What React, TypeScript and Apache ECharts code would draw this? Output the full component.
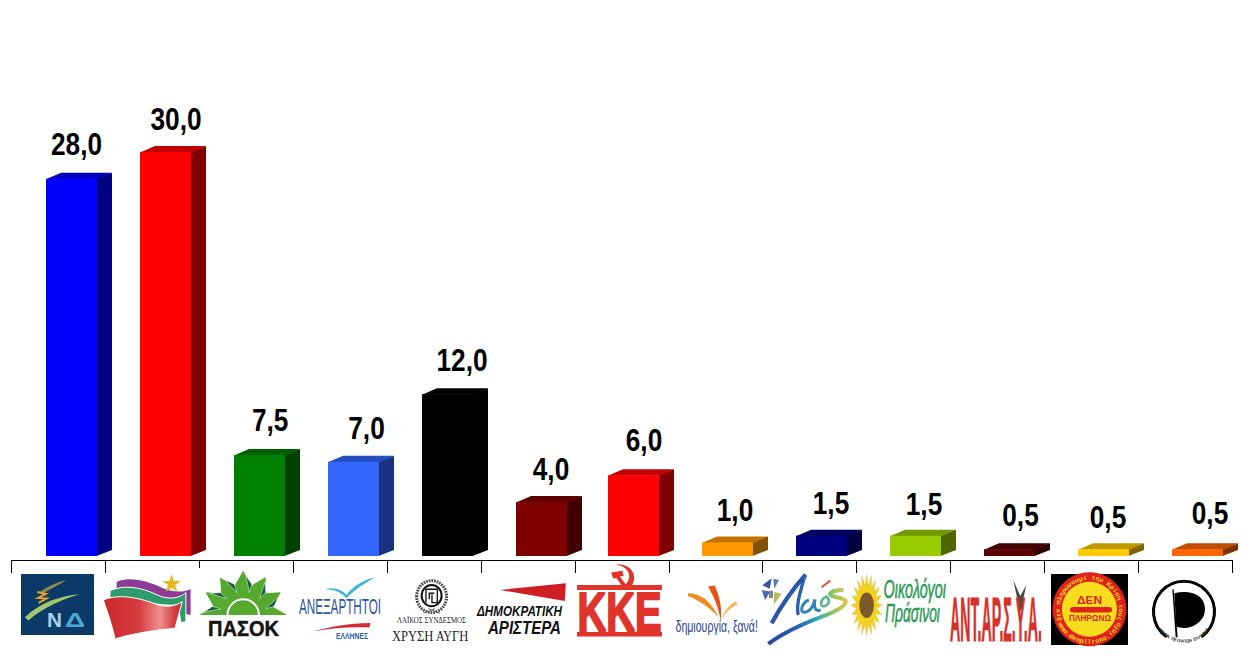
import React, { useEffect, useRef } from "react";
import * as echarts from "echarts";

// ---------- data ----------
const parties = [
  "ΝΔ", "ΣΥΡΙΖΑ", "ΠΑΣΟΚ", "ΑΝΕΞΑΡΤΗΤΟΙ ΕΛΛΗΝΕΣ", "ΧΡΥΣΗ ΑΥΓΗ", "ΔΗΜΟΚΡΑΤΙΚΗ ΑΡΙΣΤΕΡΑ", "ΚΚΕ",
  "ΔΗΜΙΟΥΡΓΙΑ ΞΑΝΑ", "ΛΑΟΣ", "ΟΙΚΟΛΟΓΟΙ ΠΡΑΣΙΝΟΙ", "ΑΝΤΑΡΣΥΑ", "ΔΕΝ ΠΛΗΡΩΝΩ", "ΠΕΙΡΑΤΕΣ",
];
const values = [28, 30, 7.5, 7, 12, 4, 6, 1, 1.5, 1.5, 0.5, 0.5, 0.5];
const frontColors = ["#0000ff", "#ff0000", "#008000", "#3366ff", "#000000", "#800000", "#ff0000", "#ff9900", "#000080", "#99cc00", "#5a0000", "#ffcc00", "#ff6600"];
const topColors = ["#0000c0", "#c00000", "#006000", "#264dc0", "#000000", "#600000", "#c00000", "#c07300", "#000060", "#739900", "#420000", "#c09900", "#c04d00"];
const sideColors = ["#000080", "#800000", "#004000", "#1a3380", "#000000", "#400000", "#800000", "#805000", "#000040", "#4d6600", "#2d0000", "#806600", "#803300"];

// hand placement of the source: small bar shifts, and labels relative to each bar's front face
const barShiftX = [0, 0, 0, 1, 1, 1, -1, -1, -1, -1, -1, -1, -1];
const labelShiftX = [5, 10.5, 10.7, 13, 14.5, 9.5, 10.5, 7.5, 9.5, 8.5, 11, 4.5, 12.5];
const labelRise = [35, 33, 35, 34, 34, 33, 35, 32.5, 33, 32, 34, 32, 36];

const NARROW = '"Liberation Sans",Arial,sans-serif';
const SANS = '"Liberation Sans",Arial,sans-serif';
const SERIF = '"Liberation Serif",serif';

// ---------- logo helpers ----------
let shapeCount = 0;
const logoEls: any[] = [];
function mk(d: string, cx: number, cy: number, style: any) {
  const name = "logoShape" + shapeCount++;
  echarts.graphic.registerShape(name, echarts.graphic.extendPath(d as any, {} as any) as any);
  logoEls.push({ type: name, x: cx, y: cy, scaleX: 1 / 3, scaleY: 1 / 3, style, z: 10, silent: true });
}
function poly(pts: number[][]) {
  return "M" + pts.map((p) => p[0].toFixed(1) + " " + p[1].toFixed(1)).join("L") + "Z";
}
function star(cx: number, cy: number, R: number, r: number, n: number, ky = 1) {
  const pts: number[][] = [];
  for (let i = 0; i < n * 2; i++) {
    const a = -Math.PI / 2 + (i * Math.PI) / n;
    const q = i % 2 ? r : R;
    pts.push([cx + q * Math.cos(a), cy + q * ky * Math.sin(a)]);
  }
  return poly(pts);
}
let measureCtx: any = null;
function fit(str: string, x0: number, x1: number, top: number, bottom: number, fill: string, family: string, extra: { w?: string; i?: boolean; size?: number; bold?: number } = {}) {
  const size = extra.size || (bottom - top) / 0.72;
  const weight = extra.w || "normal";
  const fs = extra.i ? "italic" : "normal";
  if (!measureCtx) measureCtx = document.createElement("canvas").getContext("2d");
  measureCtx.font = `${fs} ${weight} ${size}px ${family}`;
  const w = measureCtx.measureText(str).width || 1;
  const style: any = { text: str, fill, fontFamily: family, fontSize: size, fontWeight: weight, fontStyle: fs, textAlign: "left", verticalAlign: "middle" };
  if (extra.bold) {
    style.stroke = fill;
    style.lineWidth = extra.bold;
  }
  logoEls.push({ type: "text", x: x0, y: (top + bottom) / 2, scaleX: (x1 - x0) / w, z: 11, silent: true, style });
}
function arcTop(str: string, cx: number, cy: number, r: number, start: number, step: number, fill: string, size: number, family = NARROW) {
  Array.from(str).forEach((ch, i) => {
    const t = ((start + i * step) * Math.PI) / 180;
    logoEls.push({ type: "text", x: cx + r * Math.sin(t), y: cy - r * Math.cos(t), rotation: -t, z: 11, silent: true,
      style: { text: ch, fill, fontFamily: family, fontSize: size, fontWeight: "bold", textAlign: "center", verticalAlign: "middle" } });
  });
}
function arcBottom(str: string, cx: number, cy: number, r: number, start: number, step: number, fill: string, size: number, family = NARROW) {
  Array.from(str).forEach((ch, i) => {
    const t = ((start + i * step) * Math.PI) / 180;
    logoEls.push({ type: "text", x: cx + r * Math.sin(t), y: cy + r * Math.cos(t), rotation: t, z: 11, silent: true,
      style: { text: ch, fill, fontFamily: family, fontSize: size, fontWeight: "bold", textAlign: "center", verticalAlign: "middle" } });
  });
}
const hGrad = (stops: [number, string][]) =>
  new echarts.graphic.LinearGradient(0, 0, 1, 0, stops.map(([offset, color]) => ({ offset, color })));

function buildLogos() {
  logoEls.length = 0;
  // mask for the axis tick hidden by the PASOK logo's white background
  logoEls.push({ type: "rect", shape: { x: 197, y: 568, width: 5, height: 7 }, style: { fill: "#fff" }, z: 9, silent: true });

  // ΝΔ
  const c2: [number, number] = [0, 530];
  logoEls.push({ type: "rect", shape: { x: 21, y: 574, width: 73, height: 61 }, style: { fill: "#0b3a68" }, z: 9, silent: true });
  mk("M75 262 C120 218 180 198 238 193 C190 208 130 232 85 272Z", ...c2, { fill: "#a3c76d" });
  mk("M118 188 C140 170 170 157 200 150 C178 165 150 176 125 194Z", ...c2, { fill: "#8d8a4a" });
  mk("M112 186 L138 192 L114 204 L140 206 L116 219", ...c2, { fill: "none", stroke: "#e7a32e", lineWidth: 6 });
  fit("Ν", 47, 62, 612, 627, "#a6d3ea", SANS, { w: "bold" });
  fit("Δ", 65, 85, 612, 627, "#4aa8d2", SANS, { w: "bold" });

  // ΣΥΡΙΖΑ
  const c7: [number, number] = [100, 570];
  mk("M50 36 C80 20 130 30 175 48 C210 66 245 70 272 58 L272 135 L258 132 L245 82 C200 95 130 62 50 60Z", ...c7, { fill: "#8e3a97" });
  mk("M30 62 C70 44 120 50 170 74 C205 91 240 85 258 68 L258 155 L243 158 L235 105 C180 110 110 90 30 85Z", ...c7, { fill: "#2e9b6b", stroke: "#fff", lineWidth: 3 });
  mk("M10 90 C50 72 110 80 170 103 C200 114 230 107 247 95 L225 175 C170 180 100 190 45 207 C35 160 20 120 10 90Z", ...c7, {
    fill: hGrad([[0, "#c9292d"], [0.45, "#d63c3f"], [0.72, "#ee8f8f"], [0.9, "#d23e40"], [1, "#c9292d"]]), stroke: "#fff", lineWidth: 3 });
  mk(star(215, 42, 30, 11, 5), ...c7, { fill: "#e8b81e" });

  // ΠΑΣΟΚ
  const sun: number[][] = [];
  const cx = 430, cy = 135;
  const tips = [180, 149, 122, 90, 59, 31, 0];
  tips.forEach((a, i) => {
    const t = (a * Math.PI) / 180;
    sun.push([cx + 132 * Math.cos(t), cy - 133 * Math.sin(t)]);
    if (i < tips.length - 1) {
      const m = (((a + tips[i + 1]) / 2) * Math.PI) / 180;
      sun.push([cx + 92 * Math.cos(m), cy - 92 * Math.sin(m)]);
    }
  });
  mk(poly(sun), ...c7, { fill: "#55a92e" });
  tips.slice(0, -1).forEach((a, i) => {
    const m = (((a + tips[i + 1]) / 2) * Math.PI) / 180;
    const o = m + 0.2;
    mk(poly([
      [cx + 70 * Math.cos(m), cy - 70 * Math.sin(m)],
      [cx + 118 * Math.cos(o), cy - 118 * Math.sin(o)],
      [cx + 96 * Math.cos(m), cy - 96 * Math.sin(m)],
    ]), ...c7, { fill: "#0f5e38", stroke: "#fff", lineWidth: 1.5 });
  });
  mk(`M${cx - 47} ${cy} A47 47 0 0 1 ${cx + 47} ${cy}`, ...c7, { fill: "none", stroke: "#fff", lineWidth: 6 });
  fit("ΠΑΣΟΚ", 208, 279, 620, 636.5, "#141414", SANS, { w: "bold", bold: 0.5 });

  // ΑΝΕΞΑΡΤΗΤΟΙ ΕΛΛΗΝΕΣ
  mk("M975 178 C1000 170 1030 180 1040 195 C1060 170 1090 150 1125 143 C1095 160 1065 180 1040 205 C1030 190 1000 175 975 178Z", ...c2, { fill: "#3fb5d8" });
  mk("M940 305 C990 290 1050 280 1112 279 L1110 293 C1050 290 990 295 940 305Z", ...c2, { fill: "#d42d3a" });
  fit("ΑΝΕΞΑΡΤΗΤΟΙ", 299, 381, 598.5, 615, "#2b559f", NARROW);
  fit("ΕΛΛΗΝΕΣ", 336, 368, 632, 639, "#2f62ad", NARROW, { w: "bold" });

  // ΧΡΥΣΗ ΑΥΓΗ
  const c3: [number, number] = [400, 530];
  mk("M50 200 A45 48 0 1 1 140 200 A45 48 0 1 1 50 200Z", ...c3, { fill: "none", stroke: "#444", lineWidth: 9, lineDash: [5, 3] });
  mk("M65 197 A30 32 0 1 1 125 197 A30 32 0 1 1 65 197Z", ...c3, { fill: "none", stroke: "#111", lineWidth: 6 });
  mk("M78 218 L78 178 L112 178 L112 218 L96 218 L96 194 M88 208 L88 190 L103 190", ...c3, { fill: "none", stroke: "#111", lineWidth: 4 });
  mk("M70 250 L105 236 M120 250 L85 236", ...c3, { fill: "none", stroke: "#666", lineWidth: 3 });
  fit("ΛΑΪΚΟΣ ΣΥΝΔΕΣΜΟΣ", 397, 466, 618, 623.5, "#222", SERIF);
  fit("ΧΡΥΣΗ ΑΥΓΗ", 392, 469, 630.5, 641, "#222", SERIF);

  // ΔΗΜΟΚΡΑΤΙΚΗ ΑΡΙΣΤΕΡΑ
  mk("M300 180 L498 160 L495 213Z", ...c3, { fill: "#d01f24" });
  fit("ΔΗΜΟΚΡΑΤΙΚΗ", 477, 562, 606, 616, "#111", SANS, { w: "bold", i: true });
  fit("ΑΡΙΣΤΕΡΑ", 488, 561, 621.5, 634.5, "#111", SANS, { w: "bold", i: true });

  // ΚΚΕ
  const kke = "#e0332a";
  logoEls.push({ type: "rect", shape: { x: 577, y: 585, width: 85, height: 5 }, style: { fill: kke }, z: 10, silent: true });
  logoEls.push({ type: "rect", shape: { x: 577, y: 632, width: 85, height: 4.5 }, style: { fill: kke }, z: 10, silent: true });
  fit("ΚΚΕ", 577.5, 661.5, 591, 631, kke, SANS, { w: "bold", bold: 2 });
  mk("M648 104 C690 100 712 130 700 160 C692 178 670 180 655 172 C675 170 690 155 688 135 C686 118 668 106 648 104Z", ...c3, { fill: kke });
  mk("M634 128 L668 122 L672 138 L660 140 L682 168 L672 176 L650 144 L640 146Z", ...c3, { fill: kke });

  // δημιουργία, ξανά!
  mk("M865 190 C905 192 935 215 957 262 C930 232 900 212 865 198Z", ...c3, { fill: "#f08a1e" });
  mk("M925 170 L945 167 C960 200 968 235 963 272 C955 230 945 205 925 170Z", ...c3, { fill: "#e8521a" });
  mk("M1015 222 C990 235 975 250 965 272 C973 240 990 225 1008 215Z", ...c3, { fill: "#f3b660" });
  fit("δημιουργία, ξανά!", 675.5, 758, 620, 632.5, "#2a3f8f", NARROW, { size: 16 });

  // ΛΑΟΣ
  const c5: [number, number] = [755, 570];
  const laosGrad = hGrad([[0, "#22479f"], [0.4, "#2a62b4"], [0.62, "#2aa7b8"], [0.8, "#7cc26a"], [1, "#e3c34c"]]);
  mk("M152 14 C120 50 80 105 50 160", ...c5, { fill: "none", stroke: "#2a55a8", lineWidth: 13 });
  mk("M150 16 C138 60 122 105 130 135", ...c5, { fill: "none", stroke: "#2a5fb0", lineWidth: 10 });
  mk("M162 90 C140 98 132 130 150 127 C166 124 176 105 180 88 C176 110 180 127 197 120", ...c5, { fill: "none", stroke: "#2f86b5", lineWidth: 9 });
  mk("M214 80 C195 88 193 114 210 108 C225 103 225 88 214 80Z", ...c5, { fill: "none", stroke: "#5fb58f", lineWidth: 8 });
  mk("M40 222 C90 185 160 155 215 135 C245 122 278 105 272 92 C262 80 232 85 225 72 C228 64 248 60 266 60", ...c5, { fill: "none", stroke: laosGrad, lineWidth: 12 });
  mk("M226 32 L200 52", ...c5, { fill: "none", stroke: "#e0553a", lineWidth: 6 });
  mk(poly([[50, 25], [44, 56], [22, 46]]), ...c5, { fill: "#33549f" });
  mk(poly([[55, 26], [72, 30], [58, 56]]), ...c5, { fill: "#5a7ab8" });
  mk(poly([[20, 60], [46, 65], [30, 90]]), ...c5, { fill: "#4b6cb5" });
  mk(poly([[58, 65], [80, 72], [56, 104]]), ...c5, { fill: "#b7bd52" });
  mk(poly([[42, 62], [54, 62], [54, 84], [42, 84]]), ...c5, { fill: "#7d8a95" });

  // ΟΙΚΟΛΟΓΟΙ ΠΡΑΣΙΝΟΙ
  const c4: [number, number] = [830, 530];
  mk(star(110, 226, 47, 30, 20, 1.95), ...c4, { fill: "#f2d21e", stroke: "#d9a91a", lineWidth: 1 });
  mk("M88 226 A22 38 0 1 1 132 226 A22 38 0 1 1 88 226Z", ...c4, { fill: "#7b5a2b" });
  fit("Οικολόγοι", 883.5, 946, 580, 598, "#2e9a56", NARROW, { i: true, bold: 0.6 });
  fit("Πράσινοι", 885, 940, 604, 622, "#2e9a56", NARROW, { i: true, bold: 0.6 });

  // ΑΝΤ.ΑΡ.Σ.Υ.Α.
  fit("ΑΝΤ.ΑΡ.Σ.Υ.Α.", 950, 1042, 597, 642, "#d8302a", NARROW, { w: "bold", bold: 1 });
  mk("M205 30 L226 78 L244 45 L234 92 L232 112 L222 132 L220 100Z", 945, 570, { fill: "#4a4a44" });

  // ΔΕΝ ΠΛΗΡΩΝΩ
  logoEls.push({ type: "rect", shape: { x: 1051, y: 574, width: 77, height: 71 }, style: { fill: "#000" }, z: 9, silent: true });
  logoEls.push({ type: "circle", shape: { cx: 1089.4, cy: 609.3, r: 37 }, style: { fill: "#e0221c" }, z: 10, silent: true });
  logoEls.push({ type: "circle", shape: { cx: 1089.4, cy: 609.3, r: 27.5 }, style: { fill: "#f7dd1e" }, z: 10, silent: true });
  logoEls.push({ type: "rect", shape: { x: 1070, y: 607, width: 42, height: 5.5, r: 2.7 }, style: { fill: "#e0221c" }, z: 10, silent: true });
  fit("ΔΕΝ", 1077, 1102, 596, 604, "#d8241c", SANS, { w: "bold" });
  fit("ΠΛΗΡΩΝΩ", 1069, 1111, 615, 621.5, "#d8241c", SANS, { w: "bold" });
  arcTop("δεν πληρώνουμε την Κρίση τους", 1089.4, 609.3, 32, -108, 7.7, "#f7dd1e", 6.5);
  arcBottom("www.denplirono.info", 1089.4, 609.3, 32, -62, 6.9, "#f7dd1e", 6.5);

  // ΠΕΙΡΑΤΕΣ
  logoEls.push({ type: "arc", shape: { cx: 1184, cy: 611.7, r: 30.5, startAngle: (125 * Math.PI) / 180, endAngle: ((55 + 360) * Math.PI) / 180, clockwise: true },
    style: { fill: "none", stroke: "#000", lineWidth: 3 }, z: 10, silent: true });
  mk("M1028 178 L1032 178 L1044 322 L1038 322Z", ...c4, { fill: "#000" });
  mk("M1034 190 C1075 180 1125 190 1126 238 C1126 280 1075 305 1040 290Z", ...c4, { fill: "#000" });
  arcBottom("ΚΟΜΜΑ ΠΕΙΡΑΤΩΝ ΕΛΛΑΔΑΣ", 1184, 611.7, 29.5, -52, 4.95, "#333", 4.5);
  return logoEls;
}

// ---------- chart ----------
const LEFT = 11.3;
const RIGHT = 1260 - 1232.3;
const BASE = 556;
const UNIT = 13.47;
const YMAX = 40;
const FRONT_W = 51;
const DX = 15;
const DY = 6;

function renderBar(params: any, api: any) {
  const i = api.value(0);
  const v = api.value(1);
  const top = api.coord([i, v]);
  const bot = api.coord([i, 0]);
  const x0 = Math.round(top[0] - 12.6) + barShiftX[i];
  const x1 = x0 + FRONT_W;
  const yT = top[1];
  const yB = bot[1];
  const txt = v.toFixed(1).replace(".", ",");
  return {
    type: "group",
    children: [
      { type: "polygon", shape: { points: [[x1 - 0.5, yT], [x1 + DX, yT - DY], [x1 + DX, yB - DY], [x1 - 0.5, yB]] }, style: { fill: sideColors[i] } },
      { type: "polygon", shape: { points: [[x0, yT + 0.5], [x0 + DX, yT - DY], [x1 + DX, yT - DY], [x1, yT + 0.5]] }, style: { fill: topColors[i] } },
      { type: "rect", shape: { x: x0, y: yT, width: FRONT_W, height: yB - yT }, style: { fill: frontColors[i] } },
      {
        type: "text",
        x: x0 + FRONT_W / 2 + labelShiftX[i],
        y: yT - labelRise[i],
        scaleX: 0.82,
        style: { text: txt, fill: "#000", fontFamily: NARROW, fontWeight: "bold", fontSize: 32, textAlign: "center", verticalAlign: "middle" },
      },
    ],
  };
}

export default function App() {
  const ref = useRef<HTMLDivElement>(null);
  useEffect(() => {
    document.body.style.margin = "0";
    document.body.style.background = "#fff";
    const chart = echarts.init(ref.current!, undefined, { renderer: "svg" });
    chart.setOption({
      animation: false,
      backgroundColor: "#ffffff",
      grid: { left: LEFT, right: RIGHT, bottom: 669 - BASE, height: UNIT * YMAX, containLabel: false },
      xAxis: {
        type: "category",
        data: parties,
        offset: 4,
        axisLine: { onZero: false, lineStyle: { color: "#000", width: 1 } },
        axisTick: { show: true, interval: 0, length: 13, alignWithLabel: false, lineStyle: { color: "#000", width: 1 } },
        axisLabel: { show: false, interval: 0 },
        splitLine: { show: false },
      },
      yAxis: { type: "value", min: 0, max: YMAX, show: false, splitLine: { show: false } },
      series: [
        {
          type: "custom",
          renderItem: renderBar,
          data: values.map((v, i) => [i, v]),
          encode: { x: 0, y: 1 },
          clip: false,
          silent: true,
        },
      ],
      graphic: { elements: buildLogos() },
    });
    return () => chart.dispose();
  }, []);
  return <div ref={ref} style={{ position: "fixed", left: 0, top: 0, width: 1260, height: 669, background: "#fff" }} />;
}
